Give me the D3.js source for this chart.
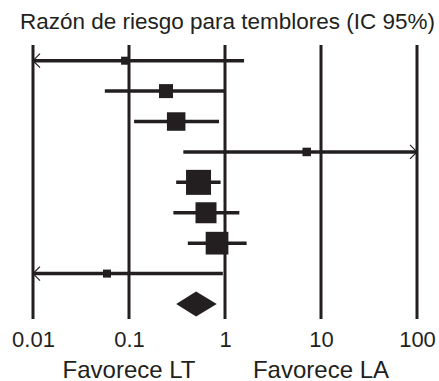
<!DOCTYPE html>
<html>
<head>
<meta charset="utf-8">
<script src="https://cdn.jsdelivr.net/npm/d3@7"></script>
<style>
  body { margin: 0; background: #fff; }
  text { font-family: "Liberation Sans", Arial, sans-serif; fill: #231f20; }
</style>
</head>
<body>
<div id="chart"></div>
<script>
// estimaciones por estudio (razon de riesgo, IC 95%)
var estimacion = [0.091, 0.243, 0.31, 7.1, 0.53, 0.634, 0.826, 0.059];
var icInferior = [0.004, 0.056, 0.113, 0.368, 0.31, 0.29, 0.41, 0.003];
var icSuperior = [1.58, 1.0, 0.866, 250, 0.90, 1.41, 1.68, 0.95];
var pesos = [8, 14, 18.5, 8.5, 25, 21, 22.7, 8];
// resumen (diamante)
var resumen = { est: 0.50, lo: 0.31, hi: 0.82 };
var ticks = [0.01, 0.1, 1, 10, 100];
var tickLabels = ["0.01", "0.1", "1", "10", "100"];

var color = "#231f20";
var width = 439, height = 381;

var svg = d3.select("#chart")
    .append("svg")
    .attr("width", width)
    .attr("height", height);

var x = d3.scaleLog().domain([0.01, 100]).range([33, 417]);
var y = d3.scaleLinear().domain([0, 8]).range([60.7, 304]);
var size = d3.scaleLinear().domain([0, 25]).range([0, 25]);

// titulo
svg.append("text")
    .attr("x", 227.5)
    .attr("y", 28.5)
    .attr("text-anchor", "middle")
    .style("font-size", "22.5px")
    .text("Razón de riesgo para temblores (IC 95%)");

// lineas verticales
svg.selectAll(".grid")
    .data(ticks)
    .enter().append("line")
    .attr("class", "grid")
    .attr("x1", d => x(d)).attr("x2", d => x(d))
    .attr("y1", 45).attr("y2", 319)
    .style("stroke", color)
    .style("stroke-width", 3);

// eje inferior
var axis = d3.axisBottom(x).tickValues(ticks).tickSize(0).tickFormat((d, i) => tickLabels[i]);
var g = svg.append("g")
    .attr("transform", "translate(0,332)")
    .call(axis);
g.attr("font-size", null).attr("font-family", null);
g.select(".domain").remove();
g.selectAll("text")
    .attr("dy", 0)
    .attr("y", 15.3)
    .style("font-size", "22px")
    .style("fill", color);

svg.append("text")
    .attr("x", x(0.1)).attr("y", 377.5)
    .attr("text-anchor", "middle")
    .style("font-size", "24px")
    .text("Favorece LT");
svg.append("text")
    .attr("x", x(10)).attr("y", 377.5)
    .attr("text-anchor", "middle")
    .style("font-size", "24px")
    .text("Favorece LA");

var dom = x.domain();
function clamp(v) { return Math.max(dom[0], Math.min(dom[1], v)); }

// intervalos
var rows = estimacion.map(function(d, i) {
    return { est: d, lo: icInferior[i], hi: icSuperior[i], w: pesos[i], i: i };
});

svg.selectAll(".ci")
    .data(rows)
    .enter().append("line")
    .attr("class", "ci")
    .attr("x1", d => x(clamp(d.lo)))
    .attr("x2", d => x(clamp(d.hi)))
    .attr("y1", d => y(d.i)).attr("y2", d => y(d.i))
    .style("stroke", color)
    .style("stroke-width", 3.5);

// flechas cuando el IC se sale de la escala
rows.forEach(function(d) {
    var yy = y(d.i);
    if (d.lo < dom[0]) {
        var x0 = x(dom[0]);
        svg.append("path")
            .attr("d", "M" + (x0 + 7) + "," + (yy - 7) + "L" + x0 + "," + yy + "L" + (x0 + 7) + "," + (yy + 7))
            .style("fill", "none").style("stroke", color).style("stroke-width", 1.2);
    }
    if (d.hi > dom[1]) {
        var x1 = x(dom[1]);
        svg.append("path")
            .attr("d", "M" + (x1 - 7) + "," + (yy - 7) + "L" + x1 + "," + yy + "L" + (x1 - 7) + "," + (yy + 7))
            .style("fill", "none").style("stroke", color).style("stroke-width", 1.2);
    }
});

// cuadrados
svg.selectAll(".sq")
    .data(rows)
    .enter().append("rect")
    .attr("class", "sq")
    .attr("x", d => x(d.est) - size(d.w) / 2)
    .attr("y", d => y(d.i) - size(d.w) / 2)
    .attr("width", d => size(d.w))
    .attr("height", d => size(d.w))
    .style("fill", color);

// diamante del resumen
var yd = y(8);
svg.append("path")
    .attr("d", "M" + x(resumen.lo) + "," + yd +
        "L" + x(resumen.est) + "," + (yd - 12.5) +
        "L" + x(resumen.hi) + "," + yd +
        "L" + x(resumen.est) + "," + (yd + 12.5) + "Z")
    .style("fill", color);
</script>
</body>
</html>
